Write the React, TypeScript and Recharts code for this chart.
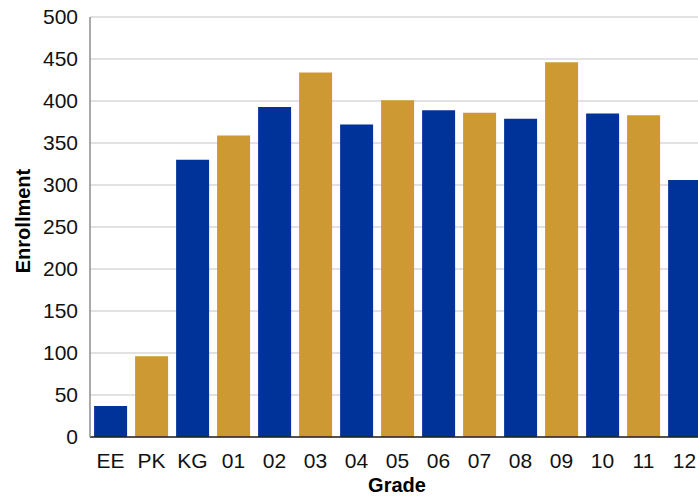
import { BarChart, Bar, XAxis, YAxis, CartesianGrid, Cell } from "recharts";

const grades = ["EE", "PK", "KG", "01", "02", "03", "04", "05", "06", "07", "08", "09", "10", "11", "12"];
const enrollment = [37, 96, 330, 359, 393, 434, 372, 401, 389, 386, 379, 446, 385, 383, 306];
const yTicks = [0, 50, 100, 150, 200, 250, 300, 350, 400, 450, 500];

const BLUE = "#003399";
const GOLD = "#cc9933";
const FONT = "'Liberation Sans', Arial, sans-serif";

const data = grades.map((g, i) => ({ grade: g, value: enrollment[i] }));

function YTitle() {
  const x = 23;
  const y = 221;
  return (
    <text
      x={x}
      y={y}
      transform={`rotate(-90, ${x}, ${y})`}
      textAnchor="middle"
      dominantBaseline="central"
      fontFamily={FONT}
      fontWeight="bold"
      fontSize={20}
      fill="#000"
    >
      Enrollment
    </text>
  );
}

function XTitle() {
  return (
    <text x={397} y={492} textAnchor="middle" fontFamily={FONT} fontWeight="bold" fontSize={20} fill="#000">
      Grade
    </text>
  );
}

export default function App() {
  return (
    <div style={{ position: "absolute", left: 0, top: 0, width: 698, height: 496, overflow: "hidden", background: "#fff" }}>
      <BarChart
        width={705}
        height={496}
        data={data}
        margin={{ top: 17, right: 0, bottom: 29, left: 0 }}
        barCategoryGap="10%"
      >
        <CartesianGrid vertical={false} stroke="#d9d9d9" strokeWidth={1.5} />
        <XAxis
          dataKey="grade"
          height={30}
          tickLine={false}
          tickSize={0}
          tickMargin={16}
          axisLine={{ stroke: "#222", strokeWidth: 1.5 }}
          tick={{ fontSize: 21, fill: "#111", fontFamily: FONT }}
          interval={0}
          label={<XTitle />}
        />
        <YAxis
          width={90}
          domain={[0, 500]}
          ticks={yTicks}
          tickLine={false}
          tickSize={0}
          tickMargin={12}
          axisLine={{ stroke: "#8c8c8c", strokeWidth: 1.5 }}
          tick={{ fontSize: 21, fill: "#111", fontFamily: FONT }}
          label={<YTitle />}
        />
        <Bar dataKey="value" isAnimationActive={false}>
          {data.map((d, i) => (
            <Cell key={d.grade} fill={i % 2 === 0 ? BLUE : GOLD} />
          ))}
        </Bar>
      </BarChart>
    </div>
  );
}
